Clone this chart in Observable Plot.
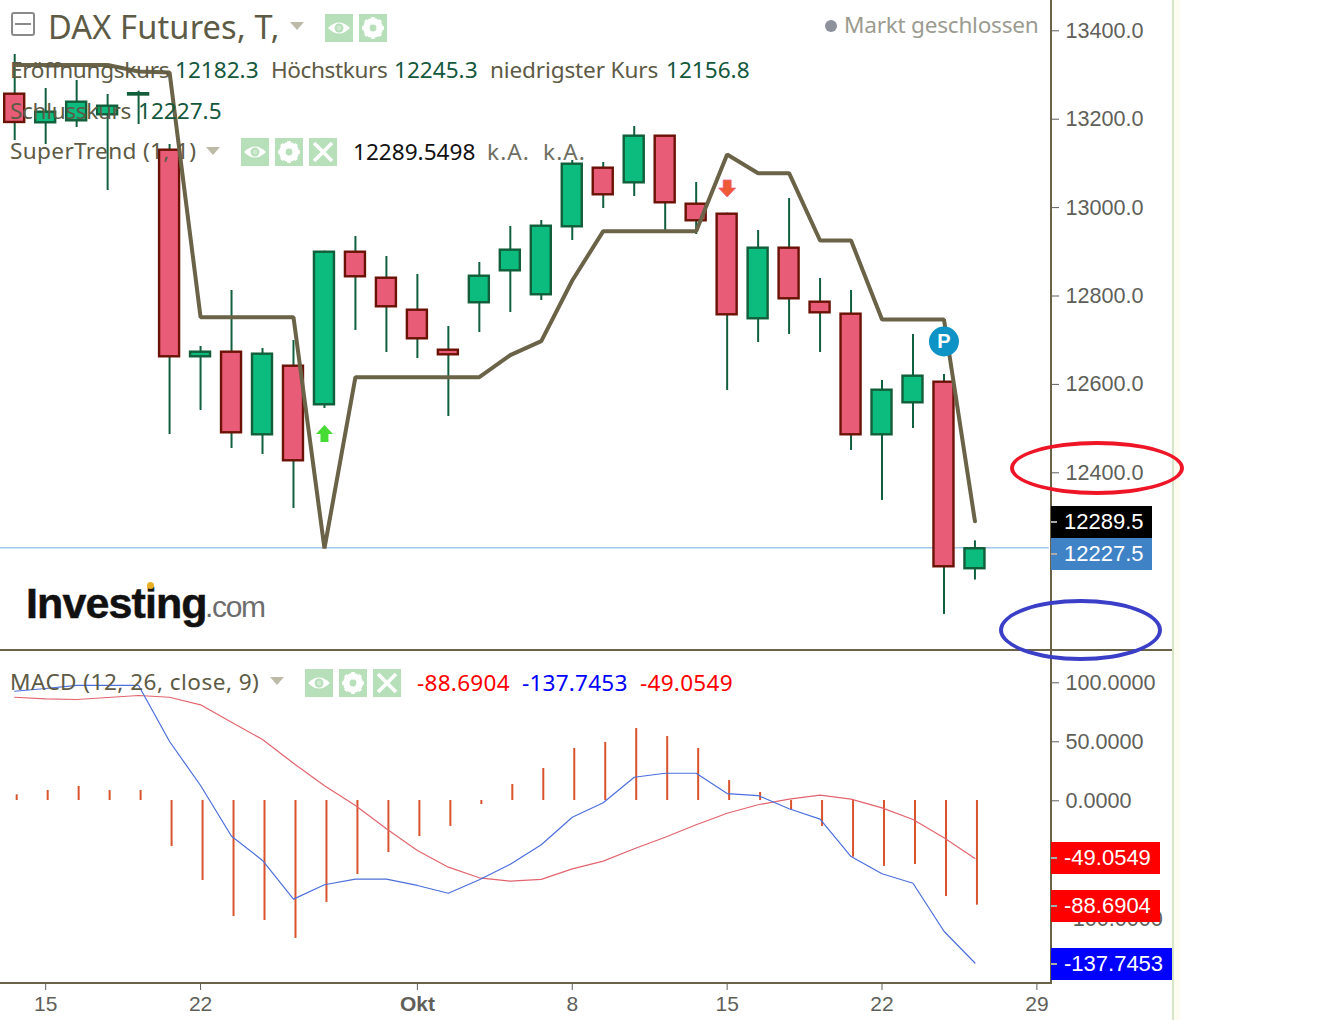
<!DOCTYPE html>
<html><head><meta charset="utf-8">
<script src="https://cdn.jsdelivr.net/npm/d3@7"></script>
<script src="https://cdn.jsdelivr.net/npm/@observablehq/plot@0.6"></script>
<style>
html,body{margin:0;padding:0;background:#fff;width:1328px;height:1020px;overflow:hidden}
#stage{position:relative;width:1328px;height:1020px;overflow:hidden}
#stage svg{display:block}
.t{position:absolute;white-space:nowrap;font-family:"Noto Sans",sans-serif;font-size:22.6px;line-height:30px;color:#5d5a45}
.tag{position:absolute;left:1051px;height:32px;line-height:32px;color:#fff;font-family:"Liberation Sans",Arial,sans-serif;font-size:22px;padding-left:13px;box-sizing:border-box}
.tag i{position:absolute;left:0;top:15px;width:6px;height:2px;background:#aaa}
.ov{position:absolute;pointer-events:none}
</style></head><body><div id="stage"></div>
<script>
// ---- data ----
const opens  = [13255.9,13191.2,13195.7,13209.3,13254.1,13129.2,12661.8,12672.2,12485.3,12640.5,12553.2,12898.4,12839.6,12767.2,12676.7,12784,12856.3,12802.1,12955.9,13088.5,13055.4,13160.9,13007,12984.4,12747.8,12907.5,12785.3,12758.2,12485.3,12557.7,12604.3,12182.3];
const closes = [13191.9,13215.2,13237.8,13228.7,13257,12661.8,12672.2,12489.8,12667.7,12426.5,12898.4,12842.8,12774.9,12702.5,12666.3,12844.1,12903,12957.2,13097.5,13028.3,13160.9,13010.2,12969.5,12756.8,12907.5,12793,12761.3,12485.3,12586.2,12617.9,12186.7,12227.5];
const highs  = [13345.7,13268.8,13286.9,13255.2,13262.7,13142.1,12685.1,12811.8,12680.6,12698.7,12900.7,12934,12888.7,12848,12730.3,12875.1,12956.6,12970.1,13105.9,13101.4,13182.8,13162.4,13056.1,12986.7,12947.5,13019.9,12838.9,12811.8,12608.2,12712.2,12621.7,12245.3];
const lows   = [13151.1,13142.1,13180.5,13038,13187.3,12486,12540.3,12454.3,12440.8,12318.6,12544.8,12721.3,12671.5,12657.9,12526.7,12716.8,12762,12789.2,12924.9,12997.3,13024.4,12947.5,12938.5,12585.5,12694.1,12712.2,12671.5,12449.8,12336.7,12499.6,12078.8,12156.8];
const superTrend = [13322,13322,13322,13322,13307.2,13305,12751.4,12751.4,12751.4,12751.4,12228.1,12615.6,12615.6,12615.6,12615.6,12615.6,12665.4,12697.1,12834.4,12946,12946,12946,12946,13119.5,13077.2,13077.2,12924.9,12924.9,12746.2,12746.2,12746.2,12289.55];
const macdLine = [92.6,94.9,97.5,97.5,97.5,50,12.7,-30.3,-50.8,-83.6,-71.4,-66.7,-66.7,-72,-78.6,-67.2,-54,-37.5,-14.2,-1.9,19.7,23.1,23.1,5.9,4.2,-7,-15.8,-47.5,-62.1,-70.1,-110.8,-137.7453];
const signalLine = [87.5,86.2,85.6,87.3,89,87.5,81.1,66.4,51.7,31.6,12.5,-4.2,-24,-42.4,-56.5,-65.5,-68.4,-66.9,-57.9,-51.4,-40.9,-31.1,-20.6,-10.8,-3.6,1.1,4.5,1.1,-6.2,-16.1,-31.6,-49.0549];
const histogram = [4.8,8.5,11.9,8.5,8.5,-39,-67.8,-98.3,-101.7,-116.9,-86.4,-62.7,-44.1,-30.5,-22,-3.4,13.6,27.1,44.1,49.2,61,54.2,44.1,16.9,6.8,-8.5,-22,-48,-55.9,-54.2,-81.4,-88.6904];
const priceTicks = [13400,13200,13000,12800,12600,12400];
const macdTicks = [100,50,0,-100];
const dateTickIdx = [1,6,18,23,28,33];
const dateTickLabels = ["15","22","8","15","22","29"];
const monthTickIdx = [13];
const monthTickLabels = ["Okt"];
const lastClose = 12227.5;
const upSignal = [{i:10,p:12488}];
const downSignal = [{i:23,p:13042.5}];
const pivot = [{i:30,p:12696.4,label:"P"}];

// ---- derived table ----
const candles = opens.map((o,i)=>({i,o,c:closes[i],h:highs[i],l:lows[i],st:superTrend[i],
  m:macdLine[i],s:signalLine[i],hist:histogram[i],up:closes[i]>=o}));

// ---- style ----
const OLIVE="#6a6348", WICK="#10603f", RED="#e95c78", REDB="#6a1206", GRN="#0bbc7e", GRNB="#125e3a";
const axFont='"Liberation Sans",Arial,sans-serif', TICK="#5f5f5a";
const stage=document.getElementById("stage");
const xScale={domain:[0,33],range:[14.2,1036.4]};
const W=1328;

const upArrow={draw(c,s){c.moveTo(0,-8.5);c.lineTo(8.5,0.5);c.lineTo(4,0.5);c.lineTo(4,8.5);c.lineTo(-4,8.5);c.lineTo(-4,0.5);c.lineTo(-8.5,0.5);c.closePath();}};
const downArrow={draw(c,s){c.moveTo(0,8.5);c.lineTo(8.5,-0.5);c.lineTo(4,-0.5);c.lineTo(4,-8.5);c.lineTo(-4,-8.5);c.lineTo(-4,-0.5);c.lineTo(-8.5,-0.5);c.closePath();}};

const pricePlot=Plot.plot({
  width:W,height:650,marginTop:0,marginBottom:0,marginLeft:0,marginRight:277,
  style:{background:"transparent",overflow:"visible"},
  x:{...xScale,axis:null},
  y:{domain:[13400,12400],range:[30,472],axis:null},
  marks:[
    Plot.ruleY([lastClose],{x1:-0.5,x2:33.4,stroke:"#a3c8ef",strokeWidth:1.5,dy:-1}),
    Plot.ruleX(candles,{x:"i",y1:"l",y2:"h",stroke:WICK,strokeWidth:2}),
    Plot.rect(candles,{x1:d=>d.i-0.323,x2:d=>d.i+0.323,y1:d=>Math.min(d.o,d.c),y2:d=>Math.max(d.o,d.c),
      fill:d=>d.up?GRN:RED,stroke:d=>d.up?GRNB:REDB,strokeWidth:2.4}),
    Plot.line(candles,{x:"i",y:"st",stroke:OLIVE,strokeWidth:4,curve:"linear",strokeLinejoin:"miter"}),
    Plot.dot(upSignal,{x:"i",y:"p",symbol:upArrow,r:8,fill:"#47dc35",stroke:"none"}),
    Plot.dot(downSignal,{x:"i",y:"p",symbol:downArrow,r:8,fill:"#ee5a36",stroke:"#f0608a",strokeWidth:0.8}),
    Plot.dot(pivot,{x:"i",y:"p",r:15,fill:"#0e93c6",stroke:"none"}),
    Plot.text(pivot,{x:"i",y:"p",text:"label",fill:"#fff",fontWeight:"bold",fontSize:20,fontFamily:axFont}),
    Plot.axisY({anchor:"right",ticks:priceTicks,tickSize:7,tickPadding:7,tickFormat:d3.format(".1f"),
      fontSize:21.6,fontFamily:axFont,color:TICK,label:null,dy:0.3})
  ]
});
const macdPlot=Plot.plot({
  width:W,height:370,marginTop:0,marginBottom:38,marginLeft:0,marginRight:277,
  style:{background:"transparent",overflow:"visible"},
  x:{...xScale,axis:null},
  y:{domain:[127.12,-154.24],range:[0,332],axis:null},
  marks:[
    Plot.ruleX(candles,{x:"i",y1:0,y2:"hist",stroke:"#d9532d",strokeWidth:2,dx:2}),
    Plot.line(candles,{x:"i",y:"s",stroke:"#e2646e",strokeWidth:1.2}),
    Plot.line(candles,{x:"i",y:"m",stroke:"#4c6fdc",strokeWidth:1.2}),
    Plot.axisY({anchor:"right",ticks:macdTicks,tickSize:7,tickPadding:7,tickFormat:d=>d.toFixed(4),
      fontSize:21.6,fontFamily:axFont,color:TICK,label:null,dy:0.3}),
    Plot.axisX({anchor:"bottom",ticks:dateTickIdx,tickSize:8,tickPadding:6,
      tickFormat:d=>dateTickLabels[dateTickIdx.indexOf(d)],fontSize:21,fontFamily:axFont,color:TICK,label:null}),
    Plot.axisX({anchor:"bottom",ticks:monthTickIdx,tickSize:8,tickPadding:6,
      tickFormat:d=>monthTickLabels[monthTickIdx.indexOf(d)],fontSize:21,fontWeight:"bold",fontFamily:axFont,color:TICK,label:null})
  ]
});
for(const [el,t] of [[pricePlot,0],[macdPlot,650]]){
  el.style.position="absolute";el.style.left="0";el.style.top=t+"px";stage.appendChild(el);
}

// ---- overlay helpers ----
function box(x,y,w,h,css){const d=document.createElement("div");d.className="ov";
  d.style.cssText+=`left:${x}px;top:${y}px;width:${w}px;height:${h}px;${css||""}`;stage.appendChild(d);return d;}
function txt(s,x,cy,color,size,extra){const d=document.createElement("div");d.className="t";d.textContent=s;
  d.style.left=x+"px";d.style.top=(cy-15)+"px";if(color)d.style.color=color;if(size)d.style.fontSize=size+"px";
  if(extra)d.style.cssText+=extra;stage.appendChild(d);return d;}
function tag(s,y,w,bg){const d=document.createElement("div");d.className="tag";d.style.top=y+"px";d.style.width=w+"px";
  d.style.background=bg;d.textContent=s;d.appendChild(document.createElement("i"));stage.appendChild(d);}
const NS="http://www.w3.org/2000/svg";
function icon(x,y,kind){
  const glyph={eye:'<path d="M3 14 Q14 3 25 14 Q14 25 3 14Z" fill="#fff"/><circle cx="14" cy="14" r="4.5" fill="#b7dfba"/><circle cx="14" cy="14" r="2.4" fill="#fff" opacity=".35"/>',
   gear:'<circle cx="14" cy="14" r="7.5" fill="none" stroke="#fff" stroke-width="5"/><path d="M14 3v22M3 14h22M6.2 6.2l15.6 15.6M21.8 6.2L6.2 21.8" stroke="#fff" stroke-width="3.4"/><circle cx="14" cy="14" r="3.4" fill="#b7dfba"/>',
   x:'<path d="M5 5L23 23M23 5L5 23" stroke="#fff" stroke-width="3.6"/>'}[kind];
  const w=document.createElement("div");w.className="ov";w.style.left=x+"px";w.style.top=y+"px";
  w.innerHTML=`<svg xmlns="${NS}" width="28" height="28" viewBox="0 0 28 28"><rect width="28" height="28" fill="#b7dfba"/>${glyph}</svg>`;
  stage.appendChild(w);
}
function tri(x,y){const w=document.createElement("div");w.className="ov";w.style.left=x+"px";w.style.top=y+"px";
  w.innerHTML=`<svg xmlns="${NS}" width="14" height="8"><path d="M0 0H14L7 8Z" fill="#bdbaa8"/></svg>`;stage.appendChild(w);}
const ls=v=>`letter-spacing:${v}px`;

// panel rules
box(1050,0,2,982,"background:#6a6348");
box(0,648.5,1172,2,"background:#6a6348");
box(0,981.5,1052,2,"background:#6a6348");
box(1172,0,2,1020,"background:#d6e6c6");
box(1174,0,6,1020,"background:#fdfcf0");

// header
box(11,12,20,20,"border:2px solid #8a8a8a;border-radius:3px");
box(15,23,16,2,"background:#8a8a8a");
txt("DAX Futures, T,",48,27,"#5d5a45",32.6,ls(0.15));
tri(290,22);icon(325,14,"eye");icon(359,14,"gear");
box(825,19.5,12,12,"background:#8d919c;border-radius:50%");
txt("Markt geschlossen",844,25,"#9b9b90",22.6,ls(-0.25));
const DG="#14583c";
txt("Eröffnungskurs",10,70,null,null,ls(-0.3));txt("12182.3",175,70,DG);
txt("Höchstkurs",271,70,null,null,ls(-0.4));txt("12245.3",394,70,DG);
txt("niedrigster Kurs",490,70,null,null,ls(-0.15));txt("12156.8",666,70,DG);
txt("Schlusskurs",10,111,null,null,ls(-0.35));txt("12227.5",138,111,DG);
txt("SuperTrend (1, 1)",10,151,null,null,ls(0.35));tri(206,147);
icon(241,138,"eye");icon(275,138,"gear");icon(309,138,"x");
txt("12289.5498",353,152,"#111");txt("k.A.",487,152,"#6e6e62",null,ls(1.1));txt("k.A.",543,152,"#6e6e62",null,ls(1.1));
txt("MACD (12, 26, close, 9)",10,682,null,null,ls(0.45));tri(270,677);
icon(305,669,"eye");icon(339,669,"gear");icon(373,669,"x");
txt("-88.6904",417,683,"#f00",null,ls(0.25));txt("-137.7453",522,683,"#00f",null,ls(0.2));txt("-49.0549",640,683,"#f00",null,ls(0.25));

// logo
txt("Investing",26,603,"#111",43,`font-family:"Liberation Sans",Arial,sans-serif;font-weight:bold;letter-spacing:-0.9px;-webkit-text-stroke:0.5px #111`);
txt(".com",205,607,"#6d6d6d",30,`font-family:"Liberation Sans",Arial,sans-serif;letter-spacing:-1.3px`);
box(147,582,7,7,"background:#e8ae25;border-radius:50%");

// value tags
tag("12289.5",506,101,"#000");
tag("12227.5",538,101,"#3f83c6");
tag("-49.0549",842,109,"#f00");
tag("-88.6904",890,109,"#f00");
tag("-137.7453",948,121,"#00f");

// hand-drawn ellipses
box(1010,441,174,54,"box-sizing:border-box;border:4px solid #ee1526;border-radius:50%");
box(998.5,598.5,163,62,"box-sizing:border-box;border:4px solid #3b3fc8;border-radius:50%");
</script></body></html>
